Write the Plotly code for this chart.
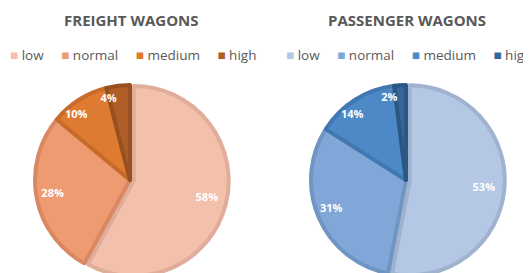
import math
import plotly.graph_objects as go

labels = ["low", "normal", "medium", "high"]
freight_values = [58, 28, 10, 4]
passenger_values = [53, 31, 14, 2]

freight_colors = ["#F3C1AB", "#EE9B72", "#DF7A31", "#B05E27"]
freight_borders = ["#DFAD99", "#D98862", "#C76B2A", "#975020"]
passenger_colors = ["#B4C7E5", "#80A7D8", "#4C89C6", "#35679A"]
passenger_borders = ["#A0B3CE", "#7095C3", "#4178B2", "#2B5784"]

titles = ["FREIGHT WAGONS", "PASSENGER WAGONS"]

FONT = "Open Sans"
GREY = "#595959"
W, H = 523, 280          # page body has an 8px margin
CY = 172                 # pie centre (px from top of figure)
R = 95                   # pie radius
R_LABEL = 63             # base radius of the invisible label rings
R_LABEL_EXTRA = 13       # extra ring radius for labels near 12/6 o'clock
centers_px = [122, 398]

fig = go.Figure()


def add_pie(values, colors, borders, cx):
    D = 2 * R * 1.04
    fig.add_trace(go.Pie(
        labels=labels, values=values, sort=False, direction="clockwise", rotation=0,
        pull=[0.04, 0, 0, 0],
        marker=dict(colors=colors, line=dict(color=borders, width=4)),
        textinfo="none",
        domain=dict(x=[(cx - D / 2 - 6) / W, (cx + D / 2 + 6) / W],
                    y=[1 - (CY + D / 2) / H, 1 - (CY - D / 2) / H]),
        showlegend=False, hoverinfo="label+percent",
    ))
    # transparent rings carrying the percentage labels just inside the outer edge
    # (one ring per slice so labels are never pushed apart)
    total = sum(values)
    cum = 0
    for i, v in enumerate(values):
        mid = 2 * math.pi * (cum + v / 2) / total
        cum += v
        rl = R_LABEL + R_LABEL_EXTRA * math.cos(mid) ** 2
        fig.add_trace(go.Pie(
            labels=labels, values=values, sort=False, direction="clockwise", rotation=0,
            marker=dict(colors=["rgba(0,0,0,0)"] * len(values), line=dict(width=0)),
            textinfo="percent", texttemplate="%{percent:.0%}",
            textposition=["outside" if j == i else "none" for j in range(len(values))],
            automargin=False,
            outsidetextfont=dict(family=FONT, size=11, color="white", weight="bold"),
            domain=dict(x=[(cx - rl) / W, (cx + rl) / W],
                        y=[1 - (CY + rl) / H, 1 - (CY - rl) / H]),
            showlegend=False, hoverinfo="skip",
        ))


add_pie(freight_values, freight_colors, freight_borders, centers_px[0])
add_pie(passenger_values, passenger_colors, passenger_borders, centers_px[1])


def legend_text(colors):
    parts = []
    for lab, col in zip(labels, colors):
        parts.append(f"<span style='color:{col}'>■</span> {lab}")
    return "&nbsp;&nbsp;&nbsp;&nbsp;&nbsp;".join(parts)


for title, colors, cx in zip(titles, [freight_colors, passenger_colors], centers_px):
    fig.add_annotation(text=f"<b>{title}</b>", x=(cx + 1) / W, y=1 - 12 / H,
                       xref="paper", yref="paper",
                       showarrow=False, xanchor="center", yanchor="middle",
                       font=dict(family=FONT, size=15, color=GREY))
    fig.add_annotation(text=legend_text(colors), x=(cx + 3) / W, y=1 - 47 / H,
                       xref="paper", yref="paper",
                       showarrow=False, xanchor="center", yanchor="middle",
                       font=dict(family=FONT, size=13.5, color=GREY))

fig.update_layout(
    width=W, height=H,
    margin=dict(l=0, r=0, t=0, b=0),
    paper_bgcolor="white", plot_bgcolor="white",
    showlegend=False,
)

fig.write_html("out.html")
